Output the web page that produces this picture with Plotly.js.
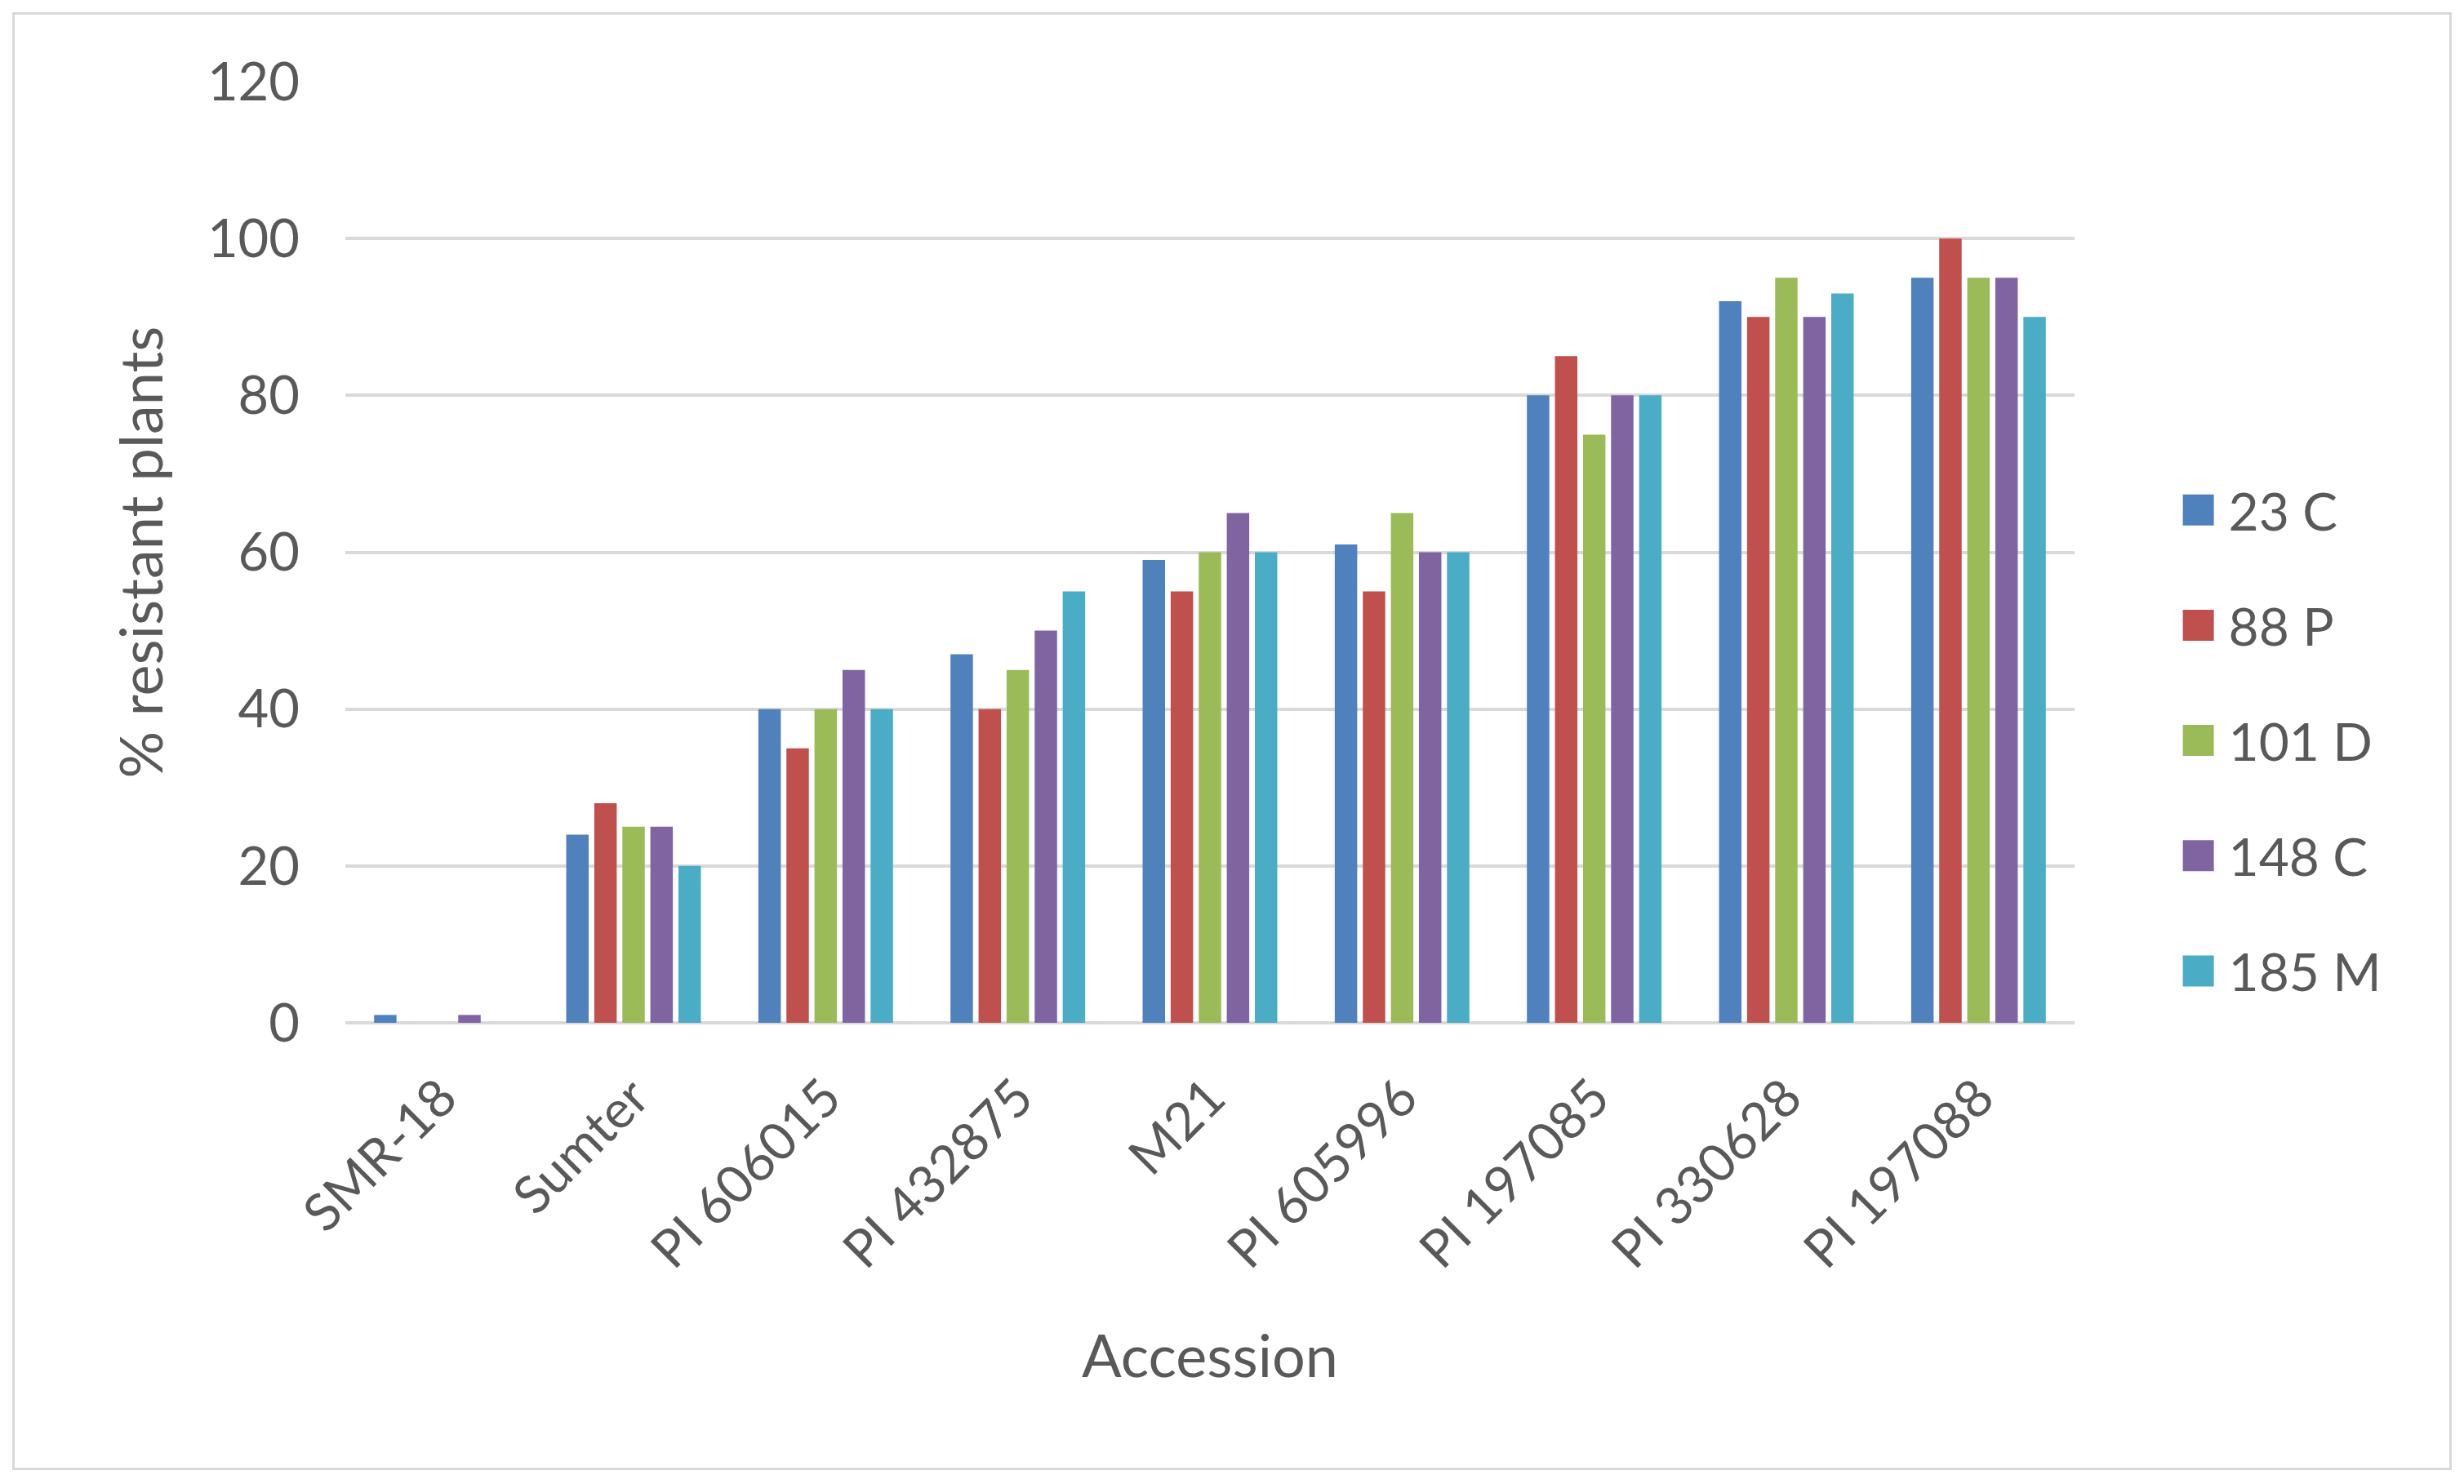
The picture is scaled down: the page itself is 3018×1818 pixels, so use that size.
<!DOCTYPE html>
<html>
<head>
<meta charset="utf-8">
<script src="https://cdn.plot.ly/plotly-3.0.1.min.js"></script>
<style>
  body { margin: 0; background: #fff; }
  #plot { position: absolute; left: 0; top: 0; width: 3018px; height: 1818px; }
  #frame { position: absolute; left: 15px; top: 15px; width: 2982px; height: 1780px;
           border: 3px solid #d9d9d9; pointer-events: none; }
</style>
</head>
<body>
<div id="plot"></div>
<div id="frame"></div>
<script>
// accessions along the x axis
const categories = ["SMR-18", "Sumter", "PI 606015", "PI 432875", "M21",
                    "PI 605996", "PI 197085", "PI 330628", "PI 197088"];

// % resistant plants per isolate
const iso23C  = [1, 24, 40, 47, 59, 61, 80, 92, 95];
const iso88P  = [0, 28, 35, 40, 55, 55, 85, 90, 100];
const iso101D = [0, 25, 40, 45, 60, 65, 75, 95, 95];
const iso148C = [1, 25, 45, 50, 65, 60, 80, 90, 95];
const iso185M = [0, 20, 40, 55, 60, 60, 80, 93, 90];

const seriesNames = ["23 C", "88 P", "101 D", "148 C", "185 M"];
const seriesValues = [iso23C, iso88P, iso101D, iso148C, iso185M];
const seriesColors = ["#4F81BD", "#C0504D", "#9BBB59", "#8064A2", "#4BACC6"];

const textColor = "#595959";
const font = "Lato, 'Open Sans', sans-serif";

const traces = seriesNames.map((name, i) => ({
    type: "bar",
    name: name,
    x: categories,
    y: seriesValues[i],
    legendgroup: name,   // one group each so tracegroupgap spaces the entries
    marker: { color: seriesColors[i], line: { width: 0 } },
    hoverinfo: "x+y+name"
}));

const layout = {
    width: 3018,
    height: 1818,
    paper_bgcolor: "#ffffff",
    plot_bgcolor: "#ffffff",
    font: { family: font, color: textColor, size: 64 },
    margin: { l: 423, r: 477, t: 100, b: 565 },
    barmode: "group",
    bargap: 0.27,
    bargroupgap: 0.2,
    showlegend: true,
    legend: {
        x: 1.056,
        xanchor: "left",
        y: 0.3,
        yanchor: "middle",
        font: { family: font, size: 64, color: textColor },
        itemwidth: 60,
        tracegroupgap: 55,
        bgcolor: "rgba(0,0,0,0)"
    },
    xaxis: {
        type: "category",
        tickangle: -45,
        tickfont: { family: font, size: 64, color: textColor },
        ticks: "",
        ticklabelstandoff: 40,
        showgrid: false,
        showline: false,
        automargin: false,
        title: { text: "Accession", font: { family: font, size: 72, color: textColor }, standoff: 70 }
    },
    yaxis: {
        range: [0, 120],
        dtick: 20,
        tickfont: { family: font, size: 65, color: textColor },
        ticks: "",
        ticklabelstandoff: 55,
        showgrid: true,
        gridcolor: "#d9d9d9",
        gridwidth: 4,
        zeroline: true,
        zerolinecolor: "#d9d9d9",
        zerolinewidth: 4,
        showline: false,
        automargin: false,
        title: { text: "% resistant plants", font: { family: font, size: 72, color: textColor }, standoff: 30 }
    }
};

Plotly.newPlot("plot", traces, layout, { staticPlot: true }).then(() => {
    // Excel-style big square legend swatches, shifted so they sit inside the item
    document.querySelectorAll("#plot .legendpoints path").forEach(p => {
        p.setAttribute("d", "M19,19H-19V-19H19Z");
        p.setAttribute("transform", "translate(33,0)");
    });
});
</script>
</body>
</html>
